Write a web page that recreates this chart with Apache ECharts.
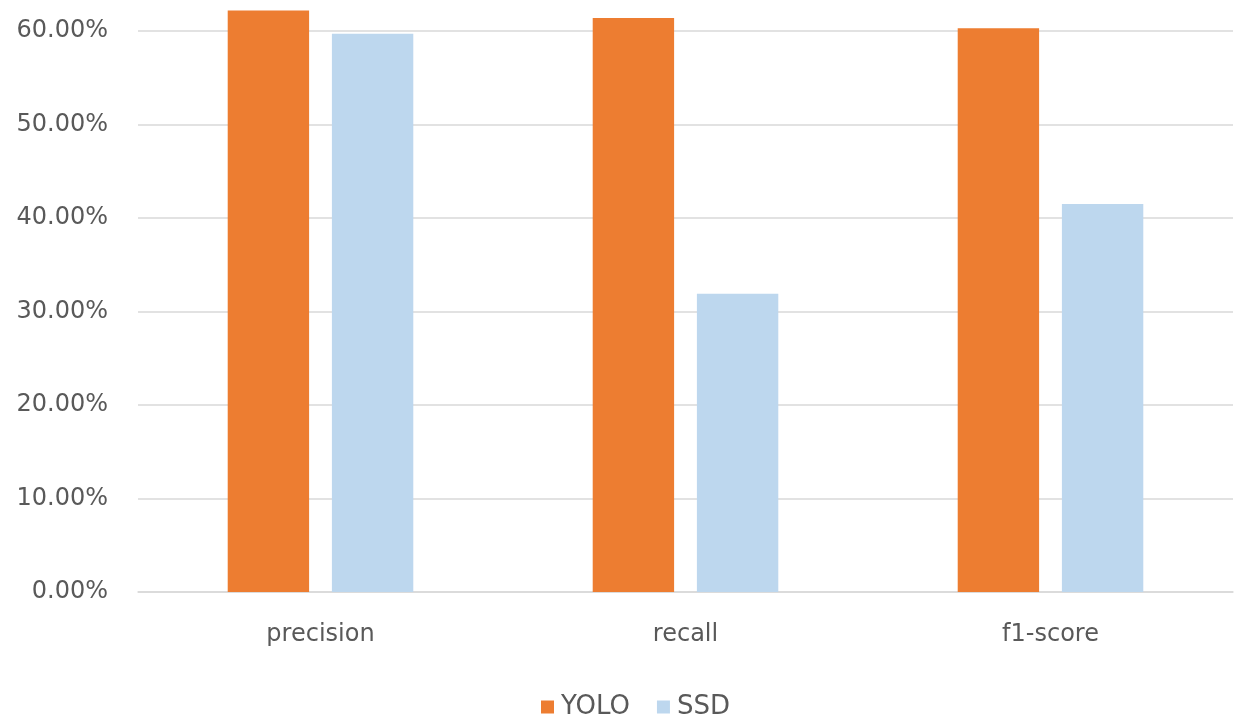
<!DOCTYPE html>
<html>
<head>
<meta charset="utf-8">
<style>
  html, body { margin: 0; padding: 0; background: #ffffff; }
  #chart { width: 1238px; height: 719px; }
</style>
<script src="https://cdn.jsdelivr.net/npm/echarts@6/dist/echarts.min.js"></script>
</head>
<body>
<div id="chart"></div>
<script>
// Detection metrics per model, in percent
const categories = ['precision', 'recall', 'f1-score'];
const seriesNames = ['YOLO', 'SSD'];
const yoloValues = [62.2, 61.4, 60.3];
const ssdValues = [59.7, 31.9, 41.5];

const textColor = '#595959';
const gridColor = '#d9d9d9';
const fontFamily = '"DejaVu Sans", "Open Sans", sans-serif';

const chart = echarts.init(document.getElementById('chart'), null, { renderer: 'canvas' });

chart.setOption({
  animation: false,
  backgroundColor: '#ffffff',
  textStyle: { fontFamily: fontFamily },
  grid: {
    left: 138,
    right: 5,
    top: -62.5,
    bottom: 127,
    containLabel: false,
    outerBoundsMode: 'none'
  },
  legend: {
    data: seriesNames,
    top: 689,
    left: 536,
    itemWidth: 13,
    itemHeight: 13,
    itemGap: 27,
    icon: 'rect',
    textStyle: { color: textColor, fontSize: 26, fontFamily: fontFamily, padding: [0, 0, 0, 2] }
  },
  xAxis: {
    type: 'category',
    data: categories,
    axisLine: { show: true, lineStyle: { color: gridColor, width: 1.5 } },
    axisTick: { show: false },
    axisLabel: { color: textColor, fontSize: 24, fontFamily: fontFamily, margin: 31 }
  },
  yAxis: {
    type: 'value',
    min: 0,
    max: 70,
    interval: 10,
    axisLine: { show: false },
    axisTick: { show: false },
    splitLine: { lineStyle: { color: gridColor, width: 1.5 } },
    axisLabel: {
      color: textColor,
      fontSize: 24,
      fontFamily: fontFamily,
      margin: 30,
      formatter: function (v) { return v.toFixed(2) + '%'; }
    }
  },
  series: [
    {
      name: seriesNames[0],
      type: 'bar',
      data: yoloValues,
      barWidth: '22.3%',
      barGap: '28%',
      itemStyle: { color: '#ED7D31' }
    },
    {
      name: seriesNames[1],
      type: 'bar',
      data: ssdValues,
      barWidth: '22.3%',
      itemStyle: { color: '#BDD7EE' }
    }
  ]
});
</script>
</body>
</html>
